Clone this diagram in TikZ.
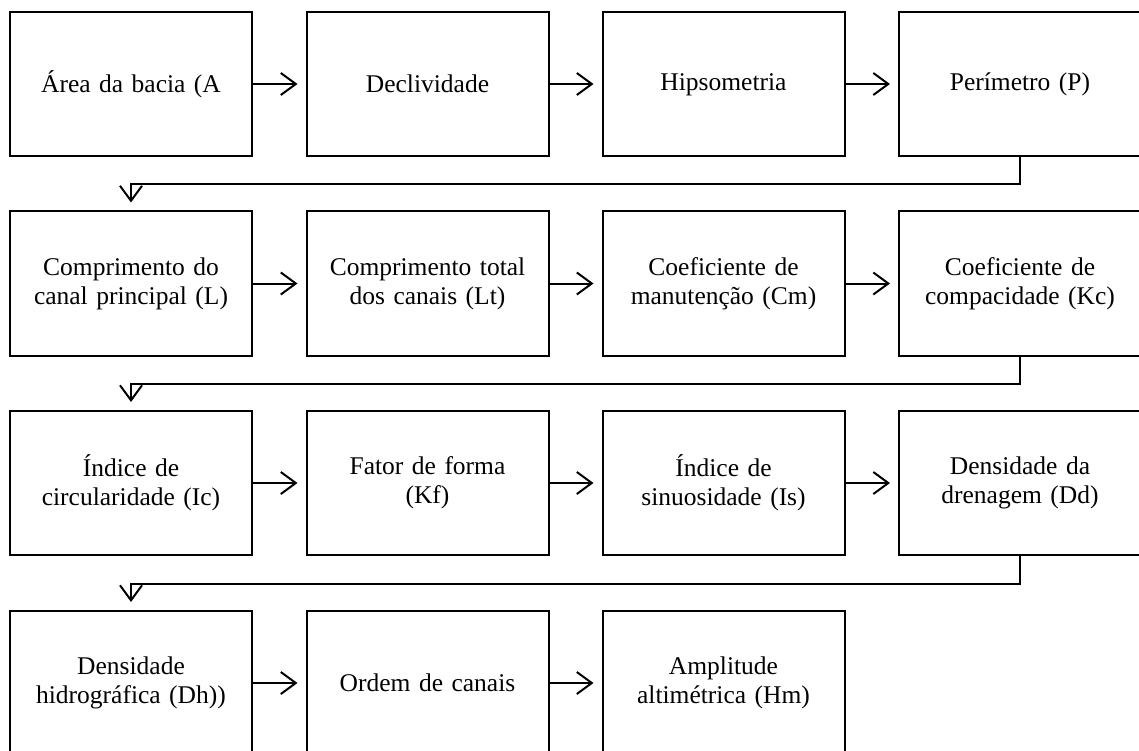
\documentclass[tikz,border=0pt]{standalone}
\usepackage{fontspec}
\setmainfont{Liberation Serif}
\usetikzlibrary{arrows.meta}
\tikzset{
  caixa/.style={draw, line width=2pt, minimum width=242pt, minimum height=144pt,
    text width=236pt, align=center, inner sep=0pt, font=\fontsize{25.5}{29}\selectfont},
  seta/.style={line width=2pt, -{Straight Barb[length=15pt,width=22pt]}, shorten >=8pt}
}
\begin{document}
\begin{tikzpicture}[x=1pt, y=-1pt]
\useasboundingbox (0,0) rectangle (1139,751);
\node[caixa] (1) at (131,84) {Área da bacia (A};
\node[caixa] (2) at (427.5,84) {Declividade};
\node[caixa] (3) at (723.5,84) {Hipsometria\vphantom{(}};
\node[caixa] (4) at (1020,84) {Perímetro (P)};

\node[caixa] (5) at (131,283.5) {Comprimento do\\canal principal (L)};
\node[caixa] (6) at (427.5,283.5) {Comprimento total\\dos canais (Lt)};
\node[caixa] (7) at (723.5,283.5) {Coeficiente de\\manutenção (Cm)};
\node[caixa] (8) at (1020,283.5) {Coeficiente de\\compacidade (Kc)};

\node[caixa] (9) at (131,483) {Índice de\\circularidade (Ic)};
\node[caixa] (10) at (427.5,483) {Fator de forma\\(Kf)};
\node[caixa] (11) at (723.5,483) {Índice de\\sinuosidade (Is)};
\node[caixa] (12) at (1020,483) {Densidade da\\drenagem (Dd)};

\node[caixa] (13) at (131,683) {Densidade\\hidrográfica (Dh))};
\node[caixa] (14) at (427.5,683) {Ordem de canais};
\node[caixa] (15) at (723.5,683) {Amplitude\\altimétrica (Hm)};

\path[draw,seta] (1) -- (2);
\path[draw,seta] (2) -- (3);
\path[draw,seta] (3) -- (4);
\path[draw,seta] (5) -- (6);
\path[draw,seta] (6) -- (7);
\path[draw,seta] (7) -- (8);
\path[draw,seta] (9) -- (10);
\path[draw,seta] (10) -- (11);
\path[draw,seta] (11) -- (12);
\path[draw,seta] (13) -- (14);
\path[draw,seta] (14) -- (15);

\path[draw,seta] (4.south) -- ++(0,27.5) -| (5.north);
\path[draw,seta] (8.south) -- ++(0,27.5) -| (9.north);
\path[draw,seta] (12.south) -- ++(0,28) -| (13.north);
\end{tikzpicture}
\end{document}
